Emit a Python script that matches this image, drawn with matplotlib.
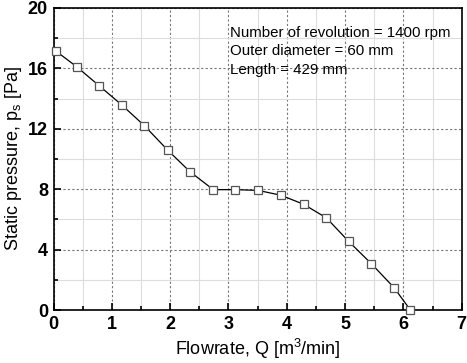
import numpy as np
import matplotlib.pyplot as plt
from matplotlib.ticker import MultipleLocator

plt.rcParams['font.family'] = ['Liberation Sans', 'DejaVu Sans']
plt.rcParams['mathtext.default'] = 'regular'

# Flowrate vs static pressure
flowrate = [0.04, 0.40, 0.78, 1.17, 1.56, 1.96, 2.34, 2.74, 3.12,
            3.51, 3.90, 4.29, 4.68, 5.06, 5.45, 5.84, 6.12]
pressure = [17.15, 16.1, 14.86, 13.58, 12.2, 10.58, 9.16, 7.97, 7.97,
            7.92, 7.6, 7.0, 6.1, 4.55, 3.07, 1.48, 0.0]

notes = ['Number of revolution = 1400 rpm',
         'Outer diameter = 60 mm',
         'Length = 429 mm']

fig = plt.figure(figsize=(4.67, 3.63), dpi=100)
ax = fig.add_axes([0.1146, 0.146, 0.874, 0.832])

ax.plot(flowrate, pressure, color='black', linewidth=0.9,
        marker='s', markersize=5.5, markerfacecolor='white',
        markeredgecolor='#555555', markeredgewidth=0.9, clip_on=False, zorder=3)

ax.set_xlim(0, 7)
ax.set_ylim(0, 20)
ax.xaxis.set_major_locator(MultipleLocator(1))
ax.xaxis.set_minor_locator(MultipleLocator(0.5))
ax.yaxis.set_major_locator(MultipleLocator(4))
ax.yaxis.set_minor_locator(MultipleLocator(2))

# grid
ax.grid(which='major', color='#777777', linestyle=(0, (2, 2)), linewidth=0.8)
ax.grid(which='minor', color='#dddddd', linestyle='-', linewidth=0.8)
ax.set_axisbelow(True)

ax.tick_params(which='both', direction='in', top=False, right=False)
ax.tick_params(which='major', length=5, width=1.2, labelsize=13, pad=4)
ax.tick_params(which='minor', length=3, width=1.2)
for lab in ax.get_xticklabels() + ax.get_yticklabels():
    lab.set_fontweight('bold')
for s in ax.spines.values():
    s.set_linewidth(1.2)

ax.set_xlabel('Flowrate, Q [m$^3$/min]', fontsize=13, labelpad=3)
ax.set_ylabel('Static pressure, p$_s$ [Pa]', fontsize=13, labelpad=3)

for i, t in enumerate(notes):
    ax.text(3.02, 18.35 - i * 1.22, t, fontsize=10.8, va='center', ha='left')

fig.savefig('out.png', dpi=100)
